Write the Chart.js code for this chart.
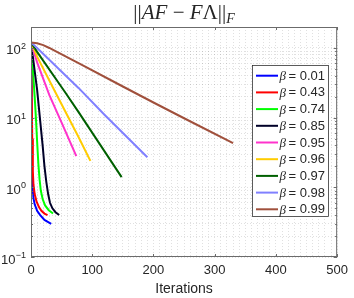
<!DOCTYPE html>
<html>
<head>
<meta charset="utf-8">
<script src="https://cdn.jsdelivr.net/npm/chart.js@4.4.1/dist/chart.umd.min.js"></script>
<style>
  html, body { margin: 0; padding: 0; background: #fff; }
  #wrap { width: 354px; height: 298px; }
</style>
</head>
<body>
<div id="wrap"><canvas id="errChart" width="354" height="298"></canvas></div>
<script>
// one line per beta value
const betas = ['0.01', '0.43', '0.74', '0.85', '0.95', '0.96', '0.97', '0.98', '0.99'];
const lineColors = ['#0000ff', '#ff0000', '#00ff00', '#000028', '#ff33cc', '#ffcc00', '#006000', '#8080ff', '#a0503c'];

// iterations / error norm
const itersA = [0, 1, 2, 4, 6, 10, 15, 22, 33];
const errA   = [120, 12, 1.15, 0.7, 0.57, 0.46, 0.4, 0.34, 0.30];
const itersB = [0, 1, 2, 3, 4, 6, 9, 13, 17, 22, 27];
const errB   = [120, 30, 5, 1.7, 1.1, 0.8, 0.63, 0.52, 0.46, 0.42, 0.40];
const itersC = [0, 3, 6, 8, 10, 12, 14, 16, 19, 23, 29, 36];
const errC   = [120, 50, 20, 10, 4.5, 2.2, 1.3, 0.9, 0.68, 0.55, 0.47, 0.42];
const itersD = [0, 5, 10, 15, 19, 22, 25, 28, 31, 35, 40, 46];
const errD   = [120, 55, 25, 9, 4, 2, 1.2, 0.8, 0.6, 0.5, 0.44, 0.40];
const itersE = [0, 10, 30, 50, 74];
const errE   = [120, 62, 21, 8.5, 2.8];
const itersF = [0, 10, 40, 78, 97];
const errF   = [120, 75, 23, 5.2, 2.4];
const itersG = [0, 10, 56, 78, 148];
const errG   = [120, 88, 23, 11.9, 1.4];
const itersH = [0, 10, 78, 120, 190];
const errH   = [120, 100, 26.5, 11, 2.7];
const itersI = [0, 10, 20, 30, 40, 80, 150, 200, 250, 330];
const errI   = [120, 117, 110, 100, 90, 59, 28, 16.5, 9.8, 4.3];

const allIters = [itersA, itersB, itersC, itersD, itersE, itersF, itersG, itersH, itersI];
const allErrs = [errA, errB, errC, errD, errE, errF, errG, errH, errI];

// axis ticks
const xTicks = [0, 100, 200, 300, 400, 500];
const yDecades = [0.1, 1, 10, 100];
const yMinorSteps = [1, 2, 3, 4, 5, 6, 7, 8, 9];
const yMin = 0.1, yMax = 200;

const textColor = '#262626';

const datasets = betas.map((b, i) => ({
  label: '\u03b2 = ' + b,
  data: allIters[i].map((x, k) => ({ x: x, y: allErrs[i][k] })),
  borderColor: lineColors[i],
  borderWidth: 2,
  pointRadius: 0,
  fill: false,
  tension: 0,
  order: betas.length - i
}));

// matlab-like decorations: box, inner ticks, y labels, title, legend
const matlabLook = {
  id: 'matlabLook',
  afterDraw(chart) {
    const ctx = chart.ctx;
    const a = chart.chartArea;
    const xs = chart.scales.x, ys = chart.scales.y;
    ctx.save();

    // box
    ctx.strokeStyle = '#6b6b6b';
    ctx.lineWidth = 1;
    ctx.strokeRect(a.left + 0.5, a.top + 0.5, a.right - a.left - 1, a.bottom - a.top - 1);

    // inner ticks
    ctx.beginPath();
    xTicks.forEach(v => {
      const px = Math.round(xs.getPixelForValue(v)) + 0.5;
      ctx.moveTo(px, a.bottom); ctx.lineTo(px, a.bottom - 3);
      ctx.moveTo(px, a.top); ctx.lineTo(px, a.top + 3);
    });
    ys.ticks.forEach(t => {
      const py = Math.round(ys.getPixelForValue(t.value)) + 0.5;
      const len = yDecades.includes(t.value) ? 3.5 : 2;
      ctx.moveTo(a.left, py); ctx.lineTo(a.left + len, py);
      ctx.moveTo(a.right, py); ctx.lineTo(a.right - len, py);
    });
    ctx.stroke();

    // y tick labels 10^n
    ctx.fillStyle = textColor;
    ctx.textBaseline = 'alphabetic';
    ctx.textAlign = 'right';
    yDecades.forEach(v => {
      const py = ys.getPixelForValue(v);
      const ex = String(Math.round(Math.log10(v))).replace('-', '\u2212');
      ctx.font = '9px "Liberation Sans"';
      const ew = ctx.measureText(ex).width;
      ctx.fillText(ex, 26, py + 1);
      ctx.font = '13px "Liberation Sans"';
      ctx.fillText('10', 26 - ew - 0.3, py + 6.5);
    });

    // title ||AF - FΛ||_F
    const parts = [
      { t: '||', f: '21px "Liberation Serif"', dy: 0 },
      { t: 'AF', f: 'italic 21px "Liberation Serif"', dy: 0 },
      { t: ' \u2212 ', f: '21px "Liberation Serif"', dy: 0 },
      { t: 'F', f: 'italic 21px "Liberation Serif"', dy: 0 },
      { t: '\u039b', f: '21px "Liberation Serif"', dy: 0 },
      { t: '||', f: '21px "Liberation Serif"', dy: 0 },
      { t: 'F', f: 'italic 14px "Liberation Serif"', dy: 4 }
    ];
    let total = 0;
    parts.forEach(p => { ctx.font = p.f; p.w = ctx.measureText(p.t).width; total += p.w; });
    let tx = (a.left + a.right) / 2 - total / 2;
    ctx.textAlign = 'left';
    parts.forEach(p => {
      ctx.font = p.f;
      ctx.fillText(p.t, tx, 19 + p.dy);
      tx += p.w;
    });

    // legend
    const lx = 252.5, ly = 65.5, lw = 76, lh = 151;
    ctx.fillStyle = '#fff';
    ctx.fillRect(lx, ly, lw, lh);
    ctx.strokeStyle = '#262626';
    ctx.lineWidth = 0.75;
    ctx.strokeRect(lx, ly, lw, lh);
    chart.data.datasets.forEach((ds, i) => {
      const y = 75.7 + i * 16.7;
      ctx.strokeStyle = ds.borderColor;
      ctx.lineWidth = 2;
      ctx.beginPath();
      ctx.moveTo(256, y); ctx.lineTo(278, y);
      ctx.stroke();
      ctx.fillStyle = textColor;
      ctx.textBaseline = 'middle';
      ctx.font = 'italic 13px "Liberation Serif"';
      ctx.fillText('\u03b2', 279.5, y + 1);
      ctx.font = '13px "Liberation Sans"';
      ctx.fillText('= ' + betas[i], 288.5, y + 0.5);
    });
    ctx.restore();
  }
};

const gridStyle = { color: 'rgba(0,0,0,0.12)', lineWidth: 1, drawTicks: false };

new Chart(document.getElementById('errChart'), {
  type: 'line',
  data: { datasets: datasets },
  options: {
    responsive: false,
    animation: false,
    layout: { padding: { top: 27, right: 11, left: 0, bottom: 0 } },
    plugins: { legend: { display: false }, tooltip: { enabled: false }, title: { display: false } },
    scales: {
      x: {
        type: 'linear',
        min: 0,
        max: 500,
        afterBuildTicks: s => {
          const t = [];
          for (let v = 0; v <= 500; v += 10) t.push({ value: v });
          s.ticks = t;
        },
        afterFit: s => { s.height = 41; },
        grid: gridStyle,
        border: { display: false, dash: [1, 2] },
        ticks: {
          autoSkip: false,
          maxRotation: 0,
          padding: 6,
          color: textColor,
          font: { family: 'Liberation Sans', size: 13 },
          callback: v => (v % 100 === 0 ? String(v) : '')
        },
        title: {
          display: true,
          text: 'Iterations',
          color: textColor,
          font: { family: 'Liberation Sans', size: 14 },
          padding: { top: 0, bottom: 0 }
        }
      },
      y: {
        type: 'logarithmic',
        min: yMin,
        max: yMax,
        afterBuildTicks: s => {
          const t = [];
          yDecades.forEach(d => yMinorSteps.forEach(m => {
            const v = +(d * m).toPrecision(3);
            if (v >= yMin && v <= yMax) t.push({ value: v });
          }));
          s.ticks = t;
        },
        afterFit: s => { s.width = 31; },
        grid: gridStyle,
        border: { display: false, dash: [1, 2] },
        ticks: { display: false, autoSkip: false }
      }
    }
  },
  plugins: [matlabLook]
});
</script>
</body>
</html>
